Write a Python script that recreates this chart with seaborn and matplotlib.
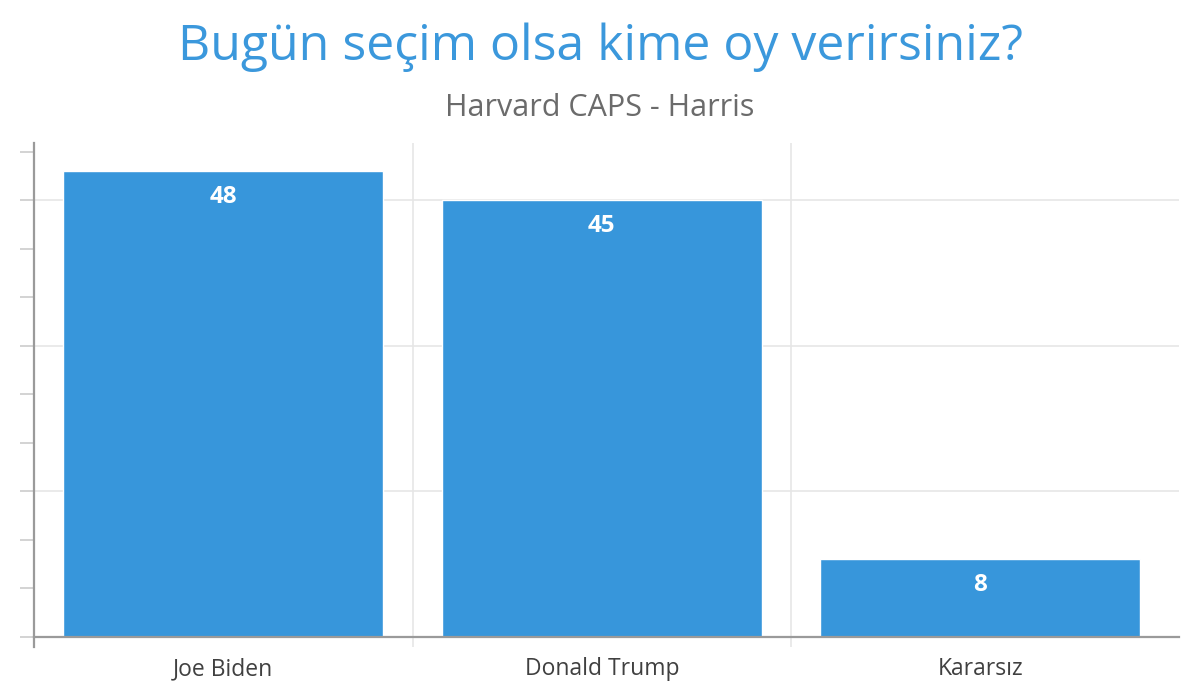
import matplotlib
matplotlib.use("Agg")
import matplotlib.pyplot as plt
import seaborn as sns
import pandas as pd
from matplotlib.ticker import FixedLocator

categories = ["Joe Biden", "Donald Trump", "Kararsız"]
values = [48, 45, 8]
title = "Bugün seçim olsa kime oy verirsiniz?"
subtitle = "Harvard CAPS - Harris"

df = pd.DataFrame({"aday": categories, "oy": values})

sns.set_theme(style="white")
plt.rcParams["font.family"] = ["Open Sans", "DejaVu Sans"]

BAR = "#3796db"
fig = plt.figure(figsize=(12, 6.92), dpi=100)
ax = fig.add_axes([34/1200, 1-647/692, (1179-34)/1200, (647-143)/692])

sns.barplot(data=df, x="aday", y="oy", color=BAR, saturation=1, width=0.845, ax=ax, zorder=3)

ax.set_xlim(-0.5, 2.525)
ax.set_ylim(-1.03, 50.88)

for p, v in zip(ax.patches, values):
    ax.annotate(f"{v}", (p.get_x() + p.get_width()/2, p.get_height()),
                xytext=(0, -10), textcoords="offset points",
                ha="center", va="top", color="white", fontsize=17.5, fontweight="bold", zorder=5)

# spines
for s in ["top", "right"]:
    ax.spines[s].set_visible(False)
ax.spines["bottom"].set_position(("data", 0))
ax.spines["bottom"].set_color("#9a9a9a")
ax.spines["bottom"].set_linewidth(1.6)
ax.spines["bottom"].set_zorder(4)
ax.spines["left"].set_color("#9a9a9a")
ax.spines["left"].set_linewidth(1.6)

# y ticks and grid
ax.yaxis.set_major_locator(FixedLocator([15, 30, 45]))
ax.yaxis.set_minor_locator(FixedLocator([0, 5, 10, 20, 25, 35, 40, 50]))
ax.tick_params(axis="y", which="both", left=True, length=10, width=1.2, color="#cccccc", labelleft=False, direction="out")
ax.yaxis.grid(True, which="major", color="#e6e6e6", linewidth=1.2, zorder=0)

# x ticks and grid
ax.xaxis.set_minor_locator(FixedLocator([0.5, 1.5]))
ax.xaxis.grid(True, which="minor", color="#e6e6e6", linewidth=1.2, zorder=0)
ax.tick_params(axis="x", which="major", length=0, pad=14.5, labelsize=16.5, labelcolor="#404040")
ax.tick_params(axis="x", which="minor", length=0)
ax.set_xlabel("")
ax.set_ylabel("")

fig.text(0.5, 1-60/692, title, ha="center", va="baseline", fontsize=36, color="#3b98dc")
fig.text(0.5, 1-116/692, subtitle, ha="center", va="baseline", fontsize=22, color="#6b6b6b")

fig.savefig("out.png", dpi=100)
